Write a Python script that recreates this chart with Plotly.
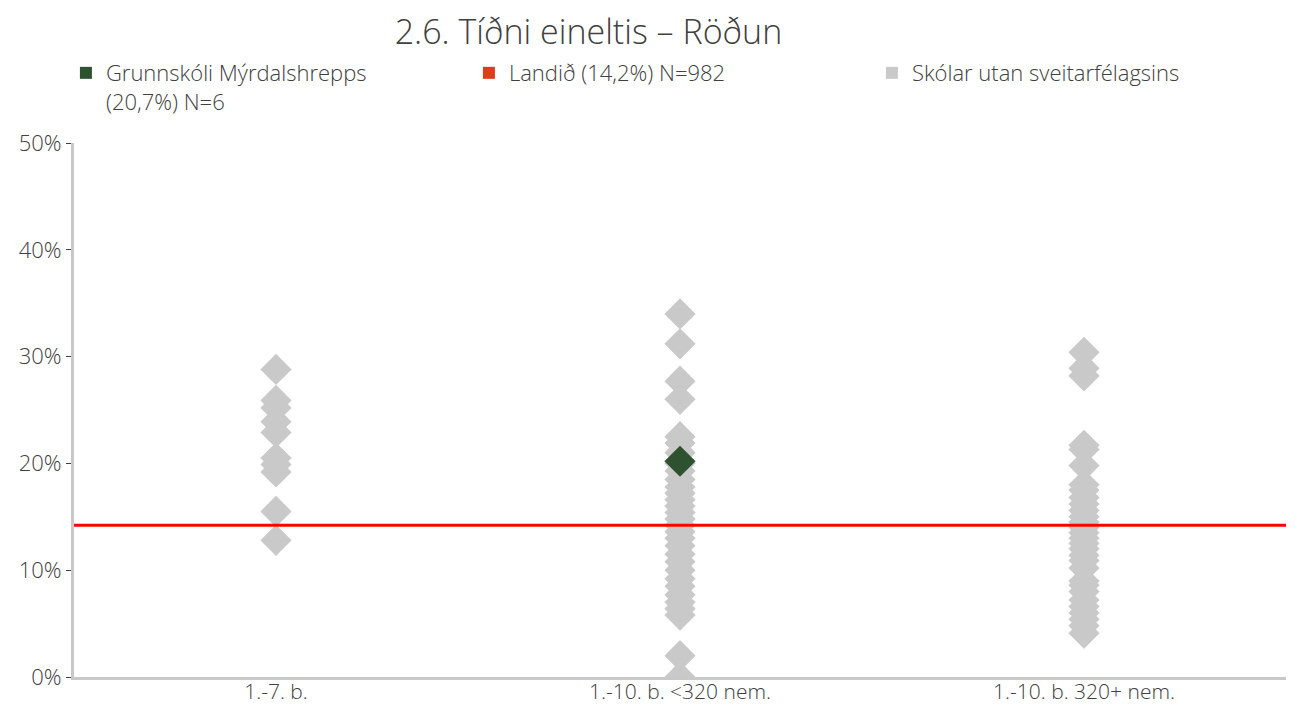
import plotly.graph_objects as go

# categories on the x axis
categories = ['1.-7. b.', '1.-10. b. <320 nem.', '1.-10. b. 320+ nem.']

# other schools (gray diamonds), in %
other_1_7 = [28.8, 25.9, 25.2, 23.9, 22.9, 20.5, 19.9, 19.2, 15.5, 12.8]
other_small = [34.0, 31.2, 27.7, 26.0, 22.5, 21.9, 21.0, 20.0, 19.3, 18.5, 17.8,
               17.2, 16.6, 16.0, 15.4, 14.8, 14.2, 13.6, 13.0, 12.3, 11.5, 10.8,
               10.0, 9.2, 8.5, 7.7, 7.0, 6.4, 5.8, 2.0, 0.0]
other_large = [30.4, 28.9, 28.2, 21.7, 21.3, 19.8, 18.0, 17.5, 16.8, 16.2, 15.6,
               15.0, 14.5, 14.0, 13.5, 13.0, 12.5, 12.0, 11.4, 10.9, 10.2, 9.0,
               8.6, 8.0, 7.2, 6.6, 6.0, 5.4, 4.8, 4.1]

# the school itself
school_cat = '1.-10. b. <320 nem.'
school_val = 20.2

# national average
national = 14.2

names = ['Grunnskóli Mýrdalshrepps<br>(20,7%) N=6',
         'Landið (14,2%) N=982',
         'Skólar utan sveitarfélagsins']

GRAY = '#c9c9c9'
GREEN = '#2e5230'
RED_LEG = '#e03c17'
RED = '#ff0000'
TXT = '#404040'
FONT = 'Open Sans'
FS = 22

others_x, others_y = [], []
for cat, vals in zip(categories, [other_1_7, other_small, other_large]):
    others_x += [cat] * len(vals)
    others_y += [v / 100 for v in vals]

fig = go.Figure()

# national line (behind the diamonds)
fig.add_trace(go.Scatter(x=[-0.5, 2.5], y=[national / 100] * 2, mode='lines',
                         showlegend=False, line=dict(color=RED, width=3),
                         xaxis='x2'))
# gray diamonds
fig.add_trace(go.Scatter(x=others_x, y=others_y, mode='markers', showlegend=False,
                         marker=dict(symbol='diamond', size=24, color=GRAY)))
# school
fig.add_trace(go.Scatter(x=[school_cat], y=[school_val / 100], mode='markers',
                         showlegend=False,
                         marker=dict(symbol='diamond', size=24, color=GREEN)))

# legend entries (square symbols like the original)
for name, col in zip(names, [GREEN, RED_LEG, GRAY]):
    fig.add_trace(go.Scatter(x=[None], y=[None], mode='markers', name=name,
                             marker=dict(symbol='square', size=16, color=col)))

# page body has an 8px margin, so the figure is 8px smaller each way
fig.update_layout(
    width=1287, height=699,
    paper_bgcolor='white', plot_bgcolor='white',
    margin=dict(l=66, r=9, t=135, b=30),
    font=dict(family=FONT, size=FS, color=TXT, weight=300),
    title=dict(text='2.6. Tíðni eineltis – Röðun', x=0.451, xanchor='center',
               y=0.965, yanchor='middle',
               font=dict(size=34, color=TXT, weight=300)),
    legend=dict(orientation='h', x=0.045, xref='container', xanchor='left',
                y=0.937, yref='container', yanchor='top',
                entrywidth=358, valign='top',
                font=dict(size=FS, color=TXT, weight=300),
                itemsizing='constant', tracegroupgap=0),
    xaxis=dict(type='category', categoryorder='array', categoryarray=categories,
               range=[-0.5, 2.5], showgrid=False, zeroline=False,
               showline=True, linecolor='#c8c8c8', linewidth=3, ticks='',
               ticklabelstandoff=-6, automargin=False,
               tickfont=dict(size=21, color=TXT, weight=300)),
    xaxis2=dict(range=[-0.5, 2.5], overlaying='x', visible=False),
    yaxis=dict(range=[0, 0.5], tickvals=[0, 0.1, 0.2, 0.3, 0.4, 0.5],
               tickformat='.0%', showgrid=False, zeroline=False,
               showline=True, linecolor='#c8c8c8', linewidth=3,
               ticks='outside', ticklen=5, tickwidth=1, tickcolor=TXT,
               automargin=False, tickfont=dict(size=FS, color=TXT, weight=300)),
)

fig.write_html('out.html')
